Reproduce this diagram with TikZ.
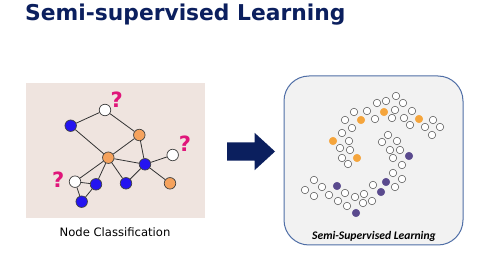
\documentclass[tikz,border=0pt]{standalone}
\usepackage{fontspec}
\setmainfont{DejaVu Sans}
\newfontfamily\calfont{Carlito}
\usetikzlibrary{shapes.arrows}
\definecolor{navy}{HTML}{0B1F5E}
\definecolor{paper}{HTML}{EFE4DF}
\definecolor{nblue}{HTML}{2414F0}
\definecolor{norange}{HTML}{F5A25D}
\definecolor{qpink}{HTML}{E0157A}
\definecolor{panel}{HTML}{F2F2F2}
\definecolor{panelrim}{HTML}{4F6EA6}
\definecolor{dorange}{HTML}{F5A53C}
\definecolor{dpurple}{HTML}{5A4A8E}

\begin{document}
\begin{tikzpicture}[
    x=1pt, y=-1pt,
    gnode/.style={circle, draw=black!75, line width=0.7pt, minimum size=11.5pt, inner sep=0pt},
    gblue/.style={gnode, fill=nblue},
    gorange/.style={gnode, fill=norange},
    gwhite/.style={gnode, fill=white},
    qmark/.style={text=qpink, font=\bfseries\fontsize{21}{21}\selectfont, inner sep=0pt},
    sdot/.style={circle, draw=black!70, line width=0.5pt, fill=white, minimum size=7.5pt, inner sep=0pt},
    odot/.style={sdot, draw=dorange, fill=dorange},
    pdot/.style={sdot, draw=dpurple, fill=dpurple},
    link/.style={draw=black!80, line width=0.8pt}
]
    \useasboundingbox (0,0) rectangle (491,267);

    % --- Title ---
    \node[anchor=base west, text=navy, inner sep=0pt,
          font=\bfseries\fontsize{21.8}{21.8}\selectfont] (title) at (25,20.5) {Semi-supervised Learning};

    % --- Left panel: graph ---
    \node[fill=paper, minimum width=179pt, minimum height=135pt, inner sep=0pt] (lbox) at (115.5,150.5) {};

    \node[gwhite]  (wt)  at (105,110) {};
    \node[gblue]   (bl)  at (70.7,125.7) {};
    \node[gorange] (otr) at (139.3,135) {};
    \node[gwhite]  (wr)  at (172.7,155) {};
    \node[gorange] (oc)  at (108.3,157.7) {};
    \node[gblue]   (bcr) at (145,164.3) {};
    \node[gorange] (obr) at (170,183.3) {};
    \node[gblue]   (bbm) at (126,183.3) {};
    \node[gwhite]  (wl)  at (75,181.7) {};
    \node[gblue]   (bm)  at (96,184.3) {};
    \node[gblue]   (bb)  at (81.7,201.7) {};

    \path[link] (bl) -- (wt) -- (otr);
    \path[link] (bl) -- (oc) -- (otr) -- (bcr);
    \path[link] (oc) -- (bcr) -- (wr);
    \path[link] (bcr) -- (obr);
    \path[link] (oc) -- (bbm) -- (bcr);
    \path[link] (oc) -- (wl);
    \path[link] (oc) -- (bm) -- (wl) -- (bb) -- (bm);

    \node[qmark] (q1) at (116.7,100) {?};
    \node[qmark] (q2) at (185,144) {?};
    \node[qmark] (q3) at (58.3,180) {?};

    \node[anchor=base, font=\fontsize{11.6}{11.6}\selectfont] (lcap) at (115,237) {Node Classification};

    % --- Arrow ---
    \node[single arrow, fill=navy, inner sep=9pt, minimum height=48pt,
          single arrow head extend=9.5pt, single arrow tip angle=85] (arr) at (246,151.5) {};

    % --- Right panel: two moons ---
    \node[draw=panelrim, fill=panel, line width=1pt, rounded corners=25pt,
          minimum width=179pt, minimum height=169pt, inner sep=0pt] (rbox) at (373.5,160.5) {};

    \foreach \x/\y [count=\i] in {396/96, 377/103, 386/101, 403/103, 354/112, 367/111, 395/110, 412/111,
        345/120, 375/119, 392/118, 404/118, 433/120, 352/128, 410/125, 425/127, 440/127,
        342/133, 432/135, 349/141, 340/148, 350/150, 342/158, 348/164,
        388/135, 382/142, 397/141, 390/150, 400/150, 393/158, 402/165, 393/173, 402/179,
        373/185, 395/187, 372/201,
        314/180, 305/190, 322/187, 314/196, 329/195, 345/193, 364/194, 338/201, 355/197, 363/203, 347/206}
        \node[sdot] (d\i) at (\x,\y) {};

    \foreach \x/\y [count=\i] in {384/112, 361/120, 419/119, 333/141, 357/158}
        \node[odot] (o\i) at (\x,\y) {};

    \foreach \x/\y [count=\i] in {409/156, 386/182, 381/192, 337/186, 356/213}
        \node[pdot] (p\i) at (\x,\y) {};

    \node[anchor=base, font=\calfont\bfseries\itshape\fontsize{11.6}{11.6}\selectfont] (rcap) at (374,240) {Semi-Supervised Learning};
\end{tikzpicture}
\end{document}
